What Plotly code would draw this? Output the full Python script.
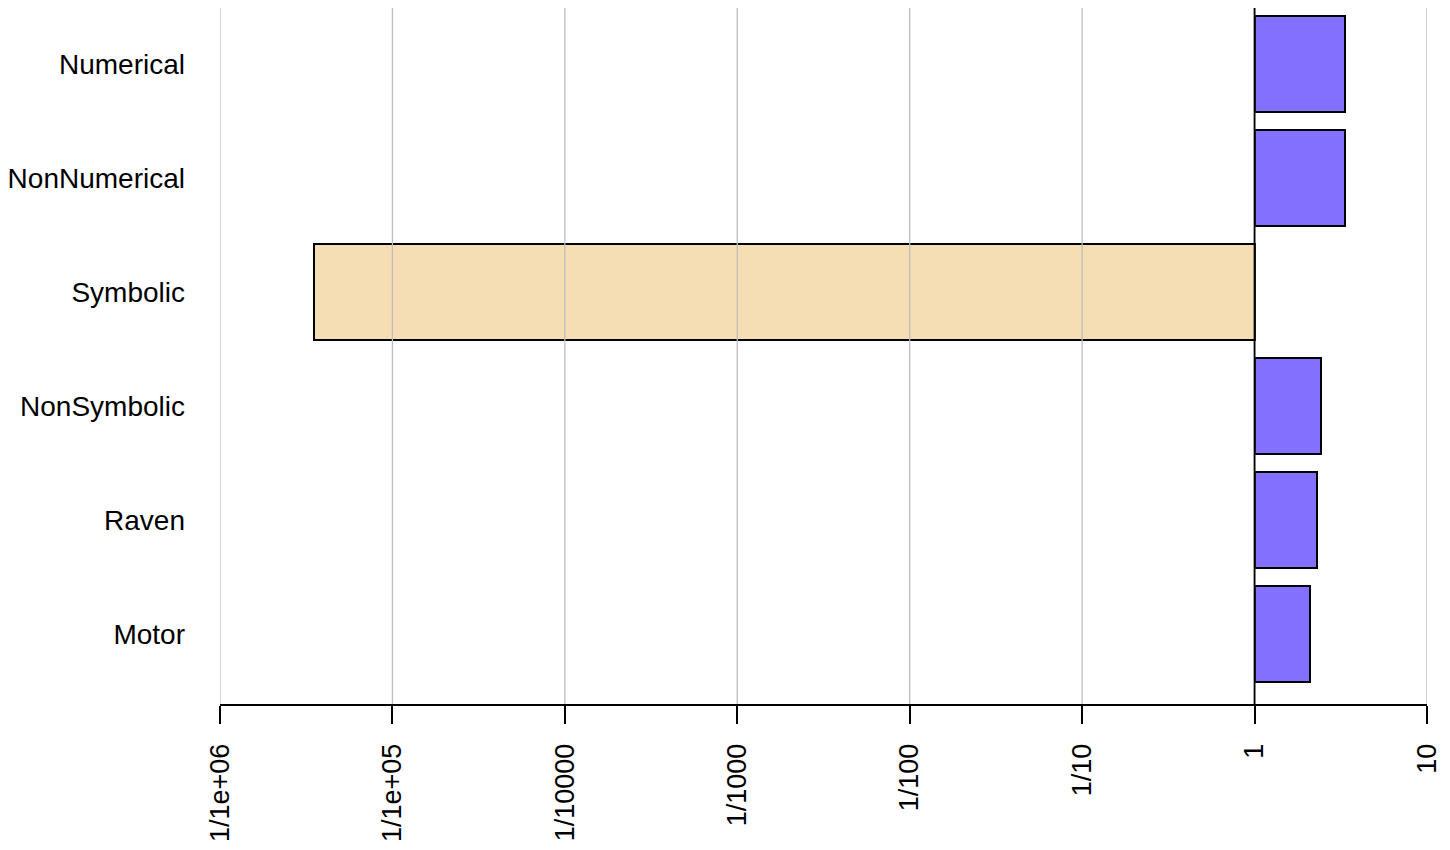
import plotly.graph_objects as go

categories = ["Numerical", "NonNumerical", "Symbolic", "NonSymbolic", "Raven", "Motor"]
values = [3.36, 3.36, 3.49e-6, 2.44, 2.31, 2.11]
bar_colors = ["#8470FF", "#8470FF", "#F5DEB3", "#8470FF", "#8470FF", "#8470FF"]
tick_vals = [1e-6, 1e-5, 1e-4, 1e-3, 1e-2, 1e-1, 1, 10]
tick_text = ["1/1e+06", "1/1e+05", "1/10000", "1/1000", "1/100", "1/10", "1", "10"]
baseline = 1

positions = list(range(len(categories)))

fig = go.Figure()
fig.add_trace(go.Bar(
    orientation="h",
    y=positions,
    x=[v - baseline for v in values],
    base=[baseline] * len(values),
    width=0.84,
    marker=dict(color=bar_colors, line=dict(color="black", width=2)),
    showlegend=False,
    hoverinfo="skip",
))

shapes = []
for tv in tick_vals:
    shapes.append(dict(type="line", xref="x", yref="paper", x0=tv, x1=tv, y0=0, y1=1,
                       line=dict(color="#BEBEBE", width=1.3), layer="above"))
shapes.append(dict(type="line", xref="x", yref="paper", x0=baseline, x1=baseline, y0=0, y1=1,
                   line=dict(color="black", width=1.8), layer="above"))

# page body has an 8px margin; compensate so the plot lands where the reference's does
fig.update_layout(
    width=1434, height=834,
    margin=dict(l=209, r=13, t=0, b=133),
    paper_bgcolor="white", plot_bgcolor="white",
    font=dict(family="Liberation Sans, Arial, sans-serif", size=27, color="black"),
    shapes=shapes,
    bargap=0,
)
fig.update_xaxes(
    type="log", range=[-6, 1.0001],
    tickvals=tick_vals, ticktext=tick_text, tickangle=-90,
    showgrid=False, zeroline=False,
    showline=True, linecolor="black", linewidth=1.8,
    ticks="outside", ticklen=18, tickwidth=1.8, tickcolor="black",
    ticklabelstandoff=9, ticklabeloverflow="allow",
    tickfont=dict(size=27),
)
fig.update_yaxes(
    range=[5.61, -0.49],
    tickvals=positions, ticktext=categories,
    showgrid=False, zeroline=False, showline=False,
    ticks="", ticklabelstandoff=34,
    tickfont=dict(size=28),
)

fig.write_html("out.html")
